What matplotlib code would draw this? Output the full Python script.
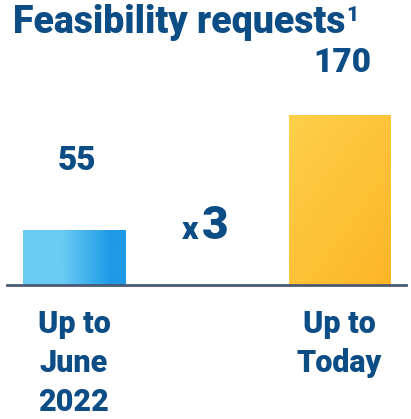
import numpy as np
import matplotlib
matplotlib.use("Agg")
import matplotlib.pyplot as plt
from matplotlib.colors import LinearSegmentedColormap

categories = ["Up to\nJune\n2022", "Up to\nToday"]
values = [55, 170]
title = "Feasibility requests"
footnote = "1"
ratio_prefix = "x"
ratio_value = "3"

navy = "#0d4d85"
plt.rcParams['font.family'] = ['Roboto', 'DejaVu Sans']
heavy = 900

fig = plt.figure(figsize=(4.11, 4.19), dpi=100)
W, H = 411, 419
base_px = 285  # baseline from top
ax = fig.add_axes([0, (H - base_px) / H, 1, base_px / H])
ax.set_ylim(0, base_px)
step = 265.5
ax.set_xlim(-74 / step, 1 + (W - 339.5) / step)
ax.axis("off")

width = 102 / step
x = np.arange(len(values))
bars = ax.bar(x, values, width=width, color="none", edgecolor="none")

# gradients clipped to the bars
blue = LinearSegmentedColormap.from_list("b", [(0, "#6acbf3"), (0.38, "#6acbf3"), (0.85, "#1e9ae6"), (1, "#1e9ae6")])
yellow = LinearSegmentedColormap.from_list("y", ["#fdd04a", "#feb527"])
g1 = np.tile(np.linspace(0, 1, 256), (2, 1))
yy, xx = np.mgrid[0:1:200j, 0:1:100j]
g2 = xx * 0.45 + yy * 0.55
for bar, cmap, g in zip(bars, [blue, yellow], [g1, g2]):
    x0, y0 = bar.get_x(), bar.get_y()
    im = ax.imshow(g, cmap=cmap, extent=[x0, x0 + bar.get_width(), y0, y0 + bar.get_height()],
                   aspect="auto", origin="upper", zorder=1)
    im.set_clip_path(bar)

ax.axhline(0, xmin=7 / W, xmax=406 / W, color="#4b5a74", lw=2, clip_on=False, zorder=3)

label_gap = [60, 43]
for xi, v, gap in zip(x, values, label_gap):
    ax.text(xi + 0.01, v + gap, str(v), ha="center", va="baseline", fontsize=24,
            fontweight=heavy, color=navy)

for xi, lab in zip(x, categories):
    ax.text(xi, -24, lab, ha="center", va="top", fontsize=22, fontweight=heavy,
            color=navy, linespacing=1.37, clip_on=False)

fig.text(13 / W, 1 - 33 / H, title, ha="left", va="baseline", fontsize=27,
         fontweight=heavy, color=navy)
fig.canvas.draw()
t_ext = fig.texts[0].get_window_extent()
fig.text(t_ext.x1 / W + 0.001, 1 - 21 / H, footnote, ha="left", va="baseline",
         fontsize=15, fontweight=heavy, color=navy)

fig.text(198 / W, 1 - 239 / H, ratio_prefix, ha="right", va="baseline", fontsize=23,
         fontweight=heavy, color=navy)
fig.text(202 / W, 1 - 239 / H, ratio_value, ha="left", va="baseline", fontsize=33,
         fontweight=heavy, color=navy)

fig.savefig("out.png", dpi=100)
